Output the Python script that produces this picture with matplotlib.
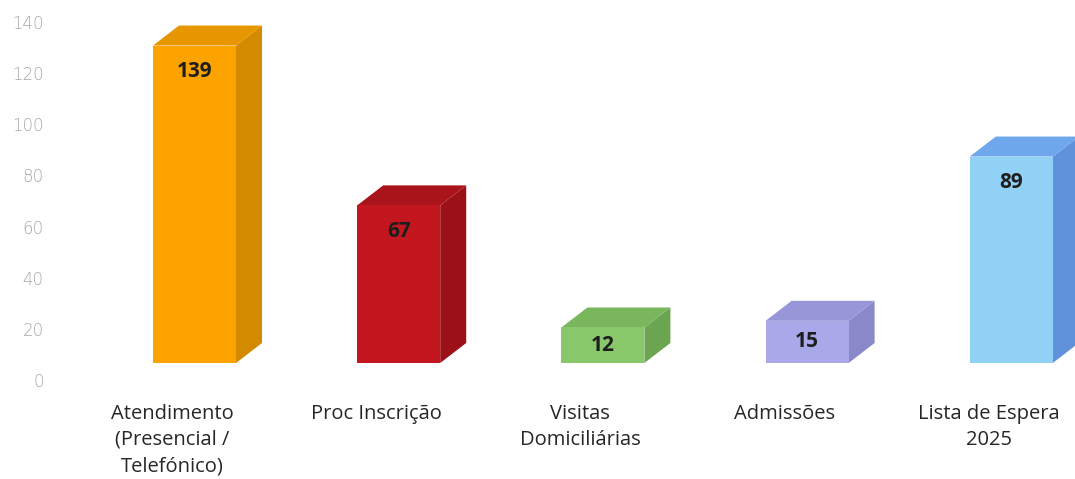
import matplotlib
matplotlib.use("Agg")
import matplotlib.pyplot as plt
from matplotlib.patches import Polygon

categories = ["Atendimento\n(Presencial /\nTelefónico)", "Proc Inscrição",
              "Visitas\nDomiciliárias", "Admissões", "Lista de Espera\n2025"]
values = [139, 67, 12, 15, 89]
yticks = [0, 20, 40, 60, 80, 100, 120, 140]

front_colors = ["#FCA300", "#C3161F", "#88C76A", "#A9A9EA", "#92D1F6"]
top_colors = ["#E79600", "#A9141B", "#79B65C", "#9796D8", "#6FA7EC"]
side_colors = ["#D38A00", "#9C1118", "#6CA54F", "#8988C8", "#5F92DA"]

W, H = 1075, 479
fig = plt.figure(figsize=(W / 100, H / 100), dpi=100)
left_px, right_px, top_px, bot_px = 52, 1075, 22, 380
ax = fig.add_axes([left_px / W, 1 - bot_px / H, (right_px - left_px) / W, (bot_px - top_px) / H])

step = 204.2
x0 = -(172 - left_px) / step
ax.set_xlim(x0, x0 + (right_px - left_px) / step)
ax.set_ylim(0, 140)
ax.set_yticks(yticks)
ax.set_yticklabels([str(t) for t in yticks], color="#A8A8A8", fontsize=12,
                   fontfamily="DejaVu Sans", fontweight="light")
ax.set_xticks(range(len(categories)))
ax.set_xticklabels(categories, fontsize=14.5, fontfamily="Open Sans", color="#262626",
                   linespacing=1.42)
ax.tick_params(axis="x", length=0, pad=17)
ax.tick_params(axis="y", length=0, pad=6)
for s in ax.spines.values():
    s.set_visible(False)

bx = ax.twinx()
px_per_unit = 2.22
base = -4.0
lo = base - (bot_px - 363) / px_per_unit
bx.set_ylim(lo, lo + (bot_px - top_px) / px_per_unit)
bx.set_yticks([])
for s in bx.spines.values():
    s.set_visible(False)

off = 22.5 / step
half = 41.5 / step
dx = 26 / step
dy = 20 / px_per_unit
for i, v in enumerate(values):
    xl = i + off - half
    xr = i + off + half
    front = Polygon([(xl, base), (xr, base), (xr, v), (xl, v)], closed=True,
                    facecolor=front_colors[i], edgecolor="none", clip_on=False)
    top = Polygon([(xl, v), (xr, v), (xr + dx, v + dy), (xl + dx, v + dy)], closed=True,
                  facecolor=top_colors[i], edgecolor="none", clip_on=False)
    side = Polygon([(xr, base), (xr + dx, base + dy), (xr + dx, v + dy), (xr, v)], closed=True,
                   facecolor=side_colors[i], edgecolor="none", clip_on=False)
    for p in (side, top, front):
        bx.add_patch(p)
    if v > 30:
        bx.annotate(str(v), xy=(i + off, v), xytext=(0, -19), textcoords="offset points",
                    ha="center", va="center", fontsize=15, fontweight="bold",
                    fontfamily="Open Sans", color="#1E1E1E")
    else:
        bx.text(i + off, (base + v) / 2, str(v), ha="center", va="center", fontsize=15,
                fontweight="bold", fontfamily="Open Sans", color="#1E1E1E")

fig.savefig("out.png", dpi=100)
